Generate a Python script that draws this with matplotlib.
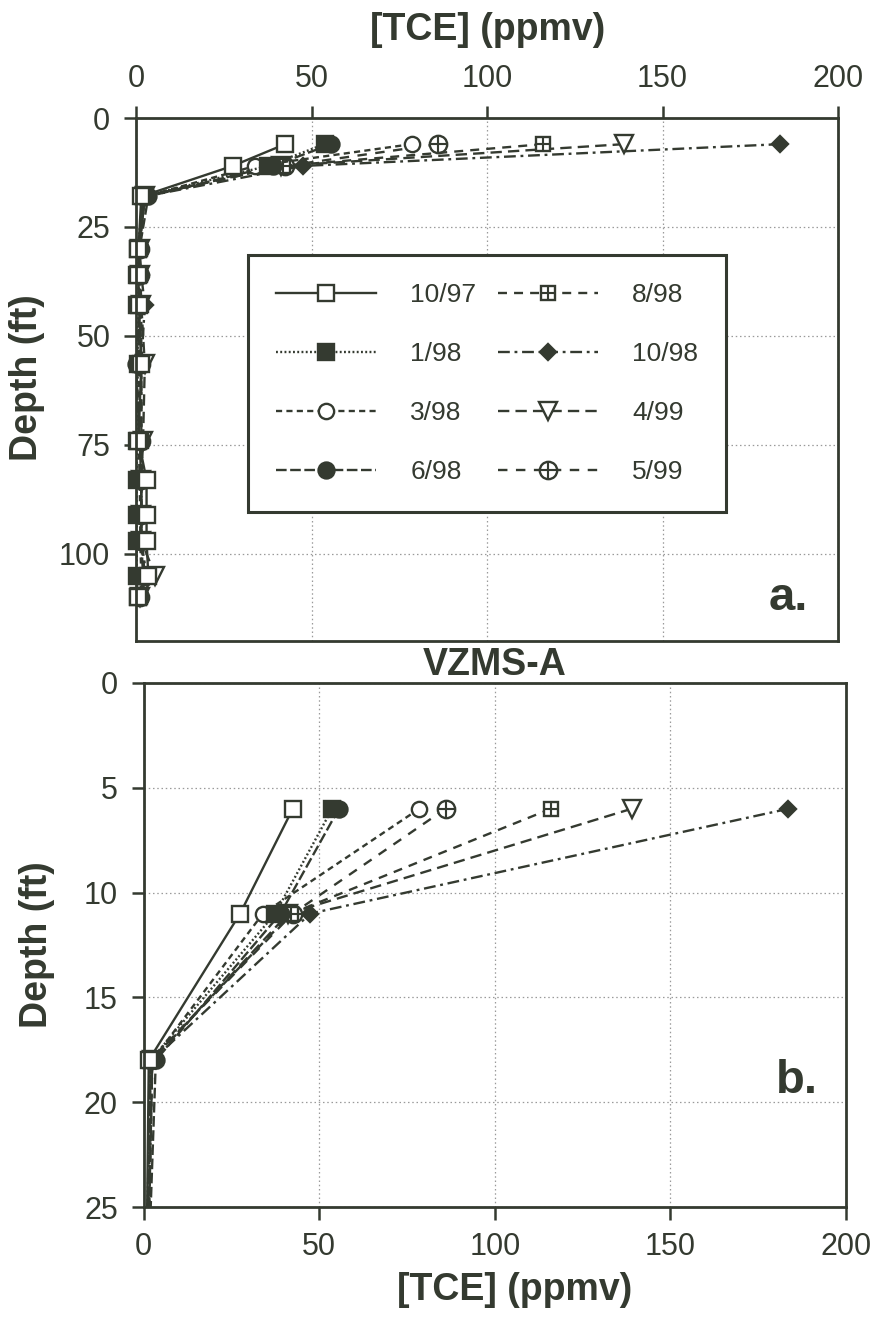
import numpy as np
import matplotlib
matplotlib.use('Agg')
import matplotlib.pyplot as plt
from matplotlib.lines import Line2D

plt.rcParams['font.family'] = ['Liberation Sans', 'DejaVu Sans']

# ---------------- data ----------------
depth_ft = [6, 11, 18, 30, 36, 43, 56.5, 74, 83, 91, 97, 105, 110]
series_labels = ['10/97', '1/98', '3/98', '6/98', '8/98', '10/98', '4/99', '5/99']
tce_1097 = [42.5, 27.5, 1.5, 0.7, 0.7, 0.8, 1.5, 0.7, 3.0, 3.0, 3.0, 3.5, 0.7]
tce_198 = [53.7, 37.5, 2.0, 0.5, 0.3, 0.4, 0.5, 0.3, 0.2, 0.2, 0.2, 0.2, 0.5]
tce_398 = [78.5, 34.0, 2.5, 0.8, 0.8, 0.8, 0.8, 0.8, 1.0, 1.2, 1.2, 1.5, 0.6]
tce_698 = [55.6, 39.0, 3.5, 1.0, 1.0, 1.2, 0.0, 1.0, 1.5, 1.5, 1.5, 2.0, 0.7]
tce_898 = [116.0, 42.0, 2.0, 1.0, 1.2, 1.5, 1.5, 1.5, 1.5, 1.5, 1.5, 2.5, 1.0]
tce_1098 = [183.6, 47.5, 2.5, 1.0, 1.5, 2.5, 1.5, 1.5, 1.5, 1.5, 1.5, 3.0, 1.0]
tce_499 = [139.0, 41.2, 2.5, 1.0, 1.2, 1.5, 2.5, 2.0, 1.5, 1.5, 1.5, 5.5, 1.0]
tce_599 = [86.0, 42.5, 2.0, 1.0, 1.0, 1.2, 1.5, 1.5, 1.5, 1.5, 1.5, 2.5, 1.0]
all_series = [tce_1097, tce_198, tce_398, tce_698, tce_898, tce_1098, tce_499, tce_599]

x_ticks = [0, 50, 100, 150, 200]
y_ticks_a = [0, 25, 50, 75, 100]
y_ticks_b = [0, 5, 10, 15, 20, 25]

# ---------------- styles ----------------
INK = '#343a30'
WHITE = 'white'
styles = [
    dict(ls='-', marker='s', ms=11, fc=WHITE, plus=False),
    dict(ls=(0, (0.8, 1.0)), marker='s', ms=11, fc=INK, plus=False),
    dict(ls=(0, (2.6, 1.8)), marker='o', ms=11, fc=WHITE, plus=False),
    dict(ls=(0, (4.5, 1.5)), marker='o', ms=11.5, fc=INK, plus=False),
    dict(ls=(0, (3.8, 3.0)), marker='s', ms=9.5, fc=WHITE, plus=True),
    dict(ls=(0, (5.0, 2.0, 1.2, 2.0)), marker='D', ms=8.5, fc=INK, plus=False),
    dict(ls=(0, (4.8, 2.6)), marker='v', ms=13, fc=WHITE, plus=False),
    dict(ls=(0, (4.0, 3.6)), marker='o', ms=12.5, fc=WHITE, plus=True),
]
LW = 1.7
MEW = 1.7

fig = plt.figure(figsize=(8.72, 13.2), dpi=100)
ax_a = fig.add_axes([0.156, 0.5144, 0.805, 0.3962])
ax_b = fig.add_axes([0.1646, 0.0856, 0.8056, 0.3970])


def draw(ax, ylim):
    d = np.array(depth_ft)
    n = len(all_series)
    for i, (vals, st) in enumerate(zip(all_series, styles)):
        z = 10 + (n - i) * 2
        v = np.array(vals)
        ax.plot(v, d, ls=st['ls'], lw=LW, color=INK, zorder=z)
        m = d <= ylim[0]
        ax.plot(v[m], d[m], ls='none', marker=st['marker'], ms=st['ms'],
                mfc=st['fc'], mec=INK, mew=MEW, zorder=z + 1, clip_on=False)
        if st['plus']:
            ax.plot(v[m], d[m], ls='none', marker='+', ms=st['ms'],
                    mec=INK, mew=MEW * 0.9, zorder=z + 1.5, clip_on=False)
    ax.set_xlim(0, 200)
    ax.set_ylim(*ylim)
    ax.set_xticks(x_ticks)
    ax.grid(True, ls=(0, (1.2, 2.2)), color='#9a9a9a', lw=0.9)
    ax.set_axisbelow(True)
    for sp in ax.spines.values():
        sp.set_linewidth(2.0)
        sp.set_color(INK)
        sp.set_zorder(40)
    ax.tick_params(direction='out', length=9, width=1.8, color=INK,
                   labelsize=22, labelcolor=INK, pad=6)
    ax.tick_params(axis='y', pad=9.5)


draw(ax_a, (120, 0))
ax_a.set_yticks(y_ticks_a)
ax_a.xaxis.tick_top()
ax_a.tick_params(axis='x', pad=8)

draw(ax_b, (25, 0))
ax_b.set_yticks(y_ticks_b)
ax_b.tick_params(axis='x', pad=9)
ax_b.set_title('VZMS-A', fontsize=27, fontweight='bold', color=INK, pad=2)

# labels
fig.text(0.5596, 0.977, '[TCE] (ppmv)', fontsize=27, fontweight='bold',
         color=INK, ha='center', va='center')
fig.text(0.59, 0.0227, '[TCE] (ppmv)', fontsize=27, fontweight='bold',
         color=INK, ha='center', va='center')
fig.text(0.031, 0.7136, 'Depth (ft)', fontsize=27, fontweight='bold',
         color=INK, ha='center', va='center', rotation=90)
fig.text(0.042, 0.284, 'Depth (ft)', fontsize=27, fontweight='bold',
         color=INK, ha='center', va='center', rotation=90)

ax_a.text(0.957, 0.059, 'a.', transform=ax_a.transAxes, fontsize=34,
          fontweight='bold', color=INK, ha='right', va='baseline', zorder=50)
ax_b.text(0.96, 0.218, 'b.', transform=ax_b.transAxes, fontsize=34,
          fontweight='bold', color=INK, ha='right', va='baseline', zorder=50)

# legend
handles = []
for st in styles:
    h = Line2D([], [], ls=st['ls'], lw=LW, color=INK, marker=st['marker'],
               ms=st['ms'], mfc=st['fc'], mec=INK, mew=MEW)
    if st['plus']:
        hp = Line2D([], [], ls='none', marker='+', ms=st['ms'], mec=INK,
                    mew=MEW * 0.9)
        handles.append((h, hp))
    else:
        handles.append(h)

leg = ax_a.legend(handles, series_labels, ncol=2, loc='upper left',
                  bbox_to_anchor=(0.1595, 0.738), borderaxespad=0,
                  fontsize=19, frameon=True, fancybox=False, framealpha=1,
                  edgecolor=INK, handlelength=3.8, handletextpad=1.3,
                  columnspacing=0.8, labelspacing=1.33, borderpad=1.05)
leg.get_frame().set_linewidth(2.2)
leg.set_zorder(60)
for t in leg.get_texts():
    t.set_color(INK)

fig.savefig('out.png', dpi=100)
